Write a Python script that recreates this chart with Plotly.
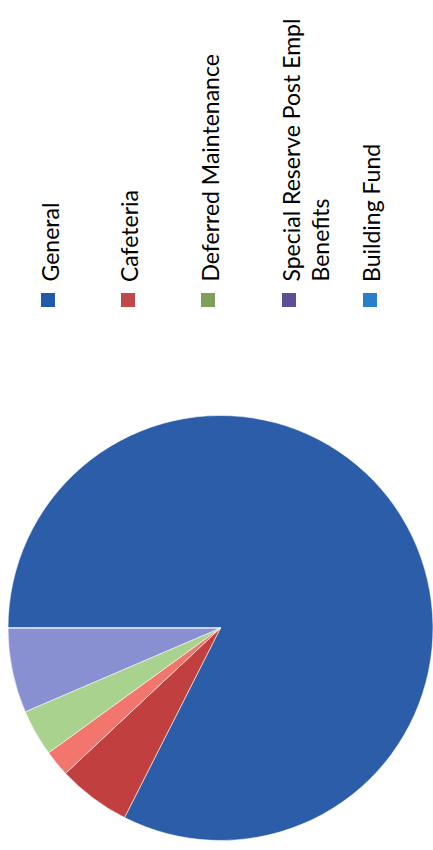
import plotly.graph_objects as go

W, H = 433, 850

# Fund shares (percent of total), in slice order
slice_labels = ["General", "Cafeteria", "Other", "Deferred Maintenance",
                "Special Reserve Post Empl Benefits", "Building Fund"]
slice_values = [82.5, 5.55, 2.0, 3.55, 6.45, 0.0]
slice_colors = ["#2B5DA9", "#C1403F", "#F2756E", "#A8D28E", "#8890D2", "#2A7FCC"]

# Legend entries
legend_labels = ["General", "Cafeteria", "Deferred Maintenance",
                 "Special Reserve Post Empl<br>Benefits", "Building Fund"]
legend_colors = ["#1F5BAA", "#C0474A", "#7FA05A", "#5E4E96", "#2A7FCC"]

FONT = "Lato"
FS = 23

fig = go.Figure()
fig.add_trace(go.Pie(
    labels=slice_labels,
    values=slice_values,
    sort=False,
    direction="clockwise",
    rotation=-90,
    marker=dict(colors=slice_colors, line=dict(color="rgba(255,255,255,0.7)", width=0.8)),
    textinfo="none",
    hoverinfo="label+percent",
    showlegend=False,
    domain=dict(x=[0.0185, 1.0], y=[0.0106, 0.5118]),
))

def px_x(v):
    return v / W

def px_y(v):
    return 1 - v / H

# Legend: rotated labels with colour keys
col_x = [48, 128, 208, 289, 370]
shapes = []
annotations = []
for cx, lab, colr in zip(col_x, legend_labels, legend_colors):
    shapes.append(dict(type="rect", xref="paper", yref="paper",
                       x0=px_x(cx - 7), x1=px_x(cx + 7),
                       y0=px_y(307), y1=px_y(293),
                       fillcolor=colr, line=dict(width=0)))
    annotations.append(dict(text=lab, xref="paper", yref="paper",
                            x=px_x(cx - 15), y=px_y(284),
                            xanchor="left", yanchor="bottom",
                            textangle=-90, showarrow=False, align="left",
                            font=dict(family=FONT, size=FS, color="#000000")))

fig.update_layout(
    width=W, height=H,
    margin=dict(l=0, r=0, t=0, b=0),
    paper_bgcolor="white",
    plot_bgcolor="white",
    shapes=shapes,
    annotations=annotations,
)

fig.write_html("out.html")
